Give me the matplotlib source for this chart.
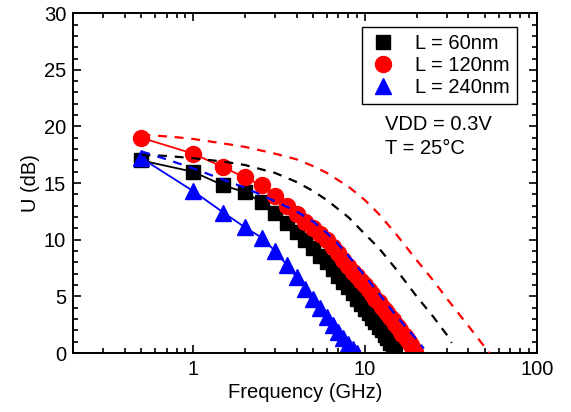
"""U (dB) vs frequency for three gate lengths."""

import matplotlib

matplotlib.use("Agg")
import matplotlib.pyplot as plt
from matplotlib.lines import Line2D
from matplotlib.ticker import AutoMinorLocator, FixedLocator, LogLocator, NullFormatter

plt.rcParams["font.family"] = ["Liberation Sans", "DejaVu Sans"]
plt.rcParams["font.size"] = 14.5

# measured points, 0.5 GHz steps
f_60 = [0.5, 1.0, 1.5, 2.0, 2.5, 3.0, 3.5, 4.0, 4.5, 5.0, 5.5, 6.0, 6.5, 7.0, 7.5,
        8.0, 8.5, 9.0, 9.5, 10.0, 10.5, 11.0, 11.5, 12.0, 12.5, 13.0, 13.5, 14.0, 14.5, 15.0]
u_60 = [17.0, 16.0, 14.8, 14.2, 13.3, 12.4, 11.5, 10.7, 10.0, 9.3, 8.6, 8.0, 7.4, 6.8, 6.3,
        5.8, 5.3, 4.8, 4.3, 3.9, 3.5, 3.1, 2.7, 2.3, 2.0, 1.6, 1.3, 0.9, 0.5, 0.2]

f_120 = [0.5, 1.0, 1.5, 2.0, 2.5, 3.0, 3.5, 4.0, 4.5, 5.0, 5.5, 6.0, 6.5, 7.0, 7.5,
         8.0, 8.5, 9.0, 9.5, 10.0, 10.5, 11.0, 11.5, 12.0, 12.5, 13.0, 13.5, 14.0, 14.5,
         15.0, 15.5, 16.0, 16.5, 17.0, 17.5, 18.0, 18.5, 19.0, 19.5]
u_120 = [19.0, 17.6, 16.4, 15.5, 14.8, 13.9, 13.0, 12.3, 11.6, 11.0, 10.5, 10.0, 9.4, 8.8, 8.2,
         7.7, 7.2, 6.8, 6.4, 6.0, 5.6, 5.2, 4.8, 4.5, 4.1, 3.8, 3.5, 3.2, 2.9,
         2.6, 2.3, 2.0, 1.7, 1.5, 1.2, 1.0, 0.7, 0.4, 0.1]

f_240 = [0.5, 1.0, 1.5, 2.0, 2.5, 3.0, 3.5, 4.0, 4.5, 5.0, 5.5, 6.0, 6.5, 7.0, 7.5, 8.0, 8.5, 9.0]
u_240 = [17.2, 14.3, 12.4, 11.1, 10.2, 9.0, 7.8, 6.7, 5.7, 4.8, 4.0, 3.2, 2.5, 1.9, 1.3, 0.8, 0.4, 0.0]

# simulated curves (dashed)
fs_60 = [0.5, 0.7, 1, 1.5, 2, 3, 4, 5, 6, 7, 8, 10, 12, 15, 20, 25, 30, 32]
us_60 = [17.5, 17.4, 17.2, 16.9, 16.6, 15.9, 15.1, 14.3, 13.5, 12.7, 12.0, 10.5, 9.3, 7.5, 5.0, 3.2, 1.6, 0.9]

fs_120 = [0.5, 0.8, 1, 1.5, 2, 3, 4, 5, 6, 8, 10, 12, 15, 20, 25, 30, 40, 50, 53]
us_120 = [19.3, 19.05, 18.9, 18.5, 18.2, 17.6, 17.1, 16.5, 15.9, 14.7, 13.5, 12.3, 10.6, 8.2, 6.4, 4.8, 2.4, 0.5, 0.0]

fs_240 = [0.5, 0.7, 1, 1.5, 2, 3, 4, 5, 6, 7, 8, 10, 12, 15, 18, 20, 22]
us_240 = [17.8, 17.1, 16.3, 15.3, 14.6, 13.4, 12.5, 11.6, 10.6, 9.6, 8.6, 6.8, 5.3, 3.4, 2.0, 1.2, 0.4]

labels = ["L = 60nm", "L = 120nm", "L = 240nm"]
colors = ["black", "red", "blue"]
markers = ["s", "o", "^"]
sizes = [9.5, 11.5, 11.5]

fig = plt.figure(figsize=(5.71, 4.12), dpi=100)
ax = fig.add_axes([0.128, 0.143, 0.812, 0.825])

meas = [(f_60, u_60), (f_120, u_120), (f_240, u_240)]
sims = [(fs_60, us_60), (fs_120, us_120), (fs_240, us_240)]

for (f, u), c, m, ms in zip(meas, colors, markers, sizes):
    ax.plot(f, u, color=c, marker=m, markersize=ms, linewidth=1.3, zorder=2)
for (f, u), c in zip(sims, colors):
    ax.plot(f, u, color=c, linestyle=(0, (4, 3.5)), linewidth=1.6, zorder=3)

ax.set_xscale("log")
ax.set_xlim(0.2, 100)
ax.set_ylim(0, 30)
ax.xaxis.set_major_locator(FixedLocator([1, 10, 100]))
ax.xaxis.set_major_formatter(plt.FuncFormatter(lambda v, p: f"{v:g}"))
ax.xaxis.set_minor_locator(LogLocator(base=10, subs=range(2, 10)))
ax.xaxis.set_minor_formatter(NullFormatter())
ax.set_yticks([0, 5, 10, 15, 20, 25, 30])
ax.yaxis.set_minor_locator(AutoMinorLocator(5))

ax.tick_params(which="both", direction="in", top=True, right=True, width=1.2)
ax.tick_params(which="major", length=6, pad=5)
ax.tick_params(which="minor", length=3.5)
for s in ax.spines.values():
    s.set_linewidth(1.4)

ax.set_xlabel("Frequency (GHz)", labelpad=3)
ax.set_ylabel("U (dB)", labelpad=3)

handles = [Line2D([], [], color=c, marker=m, linestyle="none", markersize=ms)
           for c, m, ms in zip(colors, markers, sizes)]
leg = ax.legend(handles, labels, loc="upper right", bbox_to_anchor=(0.957, 0.959),
                borderaxespad=0, fancybox=False, framealpha=1, edgecolor="black",
                handlelength=1.4, handletextpad=0.9, labelspacing=0.15, borderpad=0.35)
leg.get_frame().set_linewidth(1.0)

ax.text(0.672, 0.70, "VDD = 0.3V\nT = 25\u00b0C", transform=ax.transAxes,
        va="top", ha="left", linespacing=1.3)

fig.savefig("out.png", dpi=100)
